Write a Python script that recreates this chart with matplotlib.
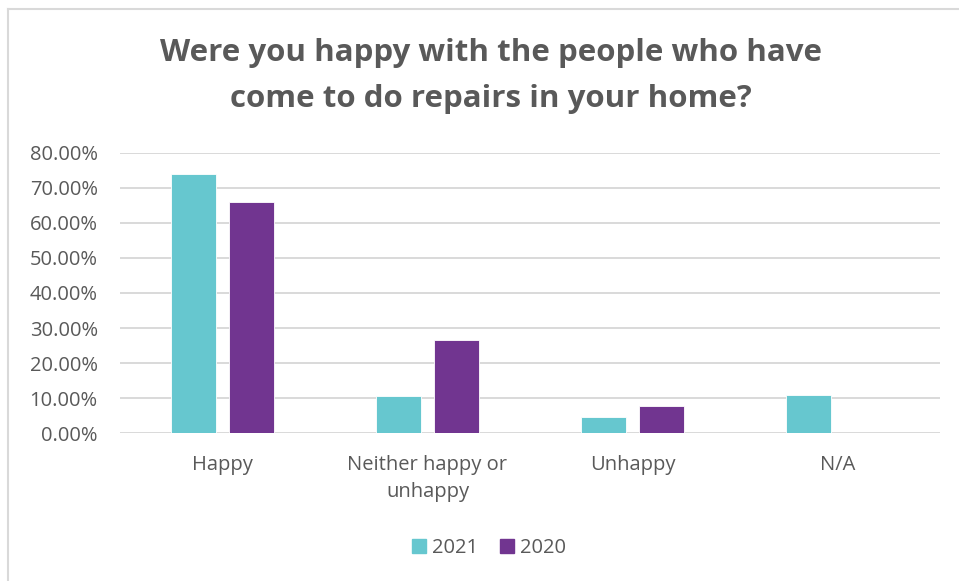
import numpy as np
import matplotlib
matplotlib.use("Agg")
import matplotlib.pyplot as plt
from matplotlib.lines import Line2D

categories = ["Happy", "Neither happy or\nunhappy", "Unhappy", "N/A"]
series_names = ["2021", "2020"]
values_2021 = [0.740, 0.106, 0.046, 0.110]
values_2020 = [0.660, 0.265, 0.076, 0.0]
y_ticks = [0.0, 0.1, 0.2, 0.3, 0.4, 0.5, 0.6, 0.7, 0.8]

TEAL = "#66C7CF"
PURPLE = "#713590"
TEXT = "#595959"
GRID = "#D9D9D9"

plt.rcParams["font.family"] = ["Open Sans", "DejaVu Sans"]

fig = plt.figure(figsize=(9.59, 5.81), dpi=100)
ax = fig.add_axes([0.1251, 0.2547, 0.8550, 0.4820])

x = np.arange(len(categories))
width = 0.22
offset = 0.142
ax.bar(x - offset, values_2021, width, color=TEAL, edgecolor="white", linewidth=0.6, zorder=3)
ax.bar(x + offset, values_2020, width, color=PURPLE, edgecolor="white", linewidth=0.6, zorder=3)

ax.set_xlim(-0.5, len(categories) - 0.5)
ax.set_ylim(0, 0.8)
ax.set_yticks(y_ticks)
ax.set_yticklabels([f"{t * 100:.2f}%" for t in y_ticks])
ax.set_xticks(x)
ax.set_xticklabels(categories, linespacing=1.45)
ax.tick_params(axis="both", length=0, colors=TEXT, labelsize=14.5)
ax.tick_params(axis="y", pad=16)
ax.tick_params(axis="x", pad=16)

ax.grid(axis="y", color=GRID, linewidth=1.4, zorder=0)
for side in ["top", "right", "left", "bottom"]:
    ax.spines[side].set_visible(False)

fig.text(0.512, 0.869, "Were you happy with the people who have\ncome to do repairs in your home?",
         ha="center", va="center", fontsize=22.5, fontweight="bold", color=TEXT,
         linespacing=1.7)

handles = [plt.Rectangle((0, 0), 1, 1, color=TEAL), plt.Rectangle((0, 0), 1, 1, color=PURPLE)]
fig.legend(handles, series_names, loc="center", bbox_to_anchor=(0.51, 0.056), ncol=2,
           frameon=False, fontsize=14.5, labelcolor=TEXT, handlelength=0.7, handleheight=0.7,
           handletextpad=0.3, columnspacing=1.1)

# frame lines along the top and left edges
fig.add_artist(Line2D([8 / 959, 1], [1 - 9 / 581, 1 - 9 / 581], transform=fig.transFigure,
                      color=GRID, linewidth=1.5))
fig.add_artist(Line2D([8 / 959, 8 / 959], [0, 1 - 9 / 581], transform=fig.transFigure,
                      color=GRID, linewidth=1.5))

fig.savefig("out.png", dpi=100)
